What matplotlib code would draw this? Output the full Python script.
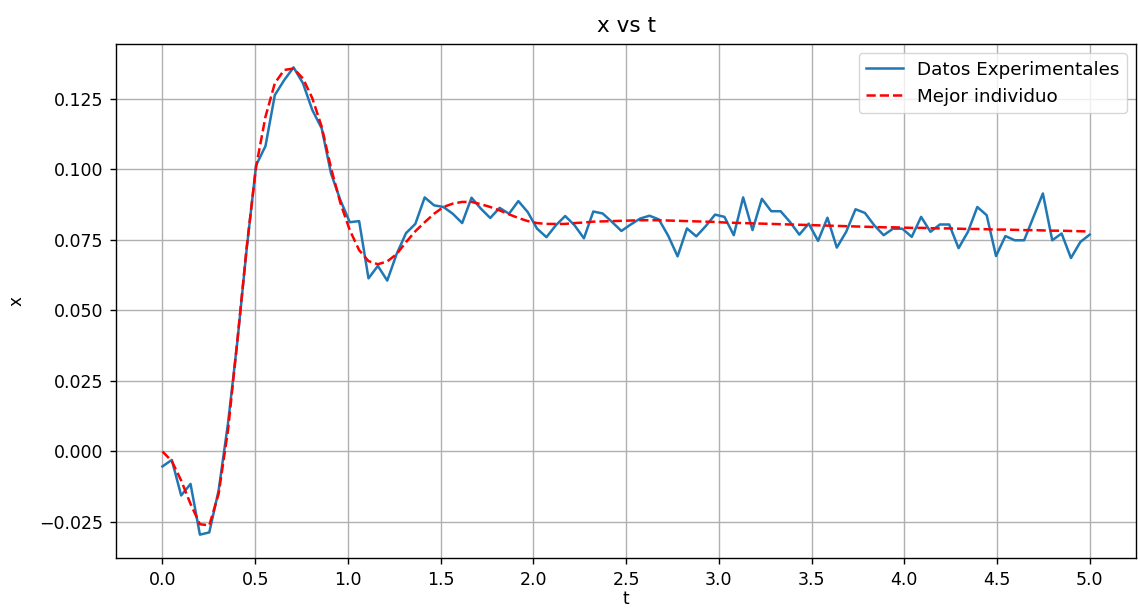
import numpy as np
import matplotlib
matplotlib.use("Agg")
import matplotlib.pyplot as plt

#time axis: 100 samples between 0 and 5
t = np.linspace(0, 5, 100)

x_exp = [-0.0053, -0.0030, -0.0156, -0.0115, -0.0295, -0.0287, -0.0138, 0.0100, 0.0390, 0.0720,
         0.1015, 0.1083, 0.1264, 0.1317, 0.1362, 0.1306, 0.1211, 0.1146, 0.0986, 0.0891,
         0.0813, 0.0817, 0.0614, 0.0658, 0.0606, 0.0700, 0.0774, 0.0807, 0.0901, 0.0873,
         0.0867, 0.0843, 0.0810, 0.0900, 0.0861, 0.0828, 0.0864, 0.0843, 0.0888, 0.0849,
         0.0790, 0.0760, 0.0802, 0.0835, 0.0802, 0.0756, 0.0851, 0.0844, 0.0814, 0.0782,
         0.0805, 0.0826, 0.0836, 0.0823, 0.0765, 0.0692, 0.0791, 0.0763, 0.0799, 0.0840,
         0.0832, 0.0767, 0.0901, 0.0785, 0.0896, 0.0852, 0.0852, 0.0814, 0.0769, 0.0808,
         0.0747, 0.0829, 0.0723, 0.0779, 0.0859, 0.0846, 0.0802, 0.0767, 0.0790, 0.0790,
         0.0761, 0.0832, 0.0779, 0.0805, 0.0805, 0.0721, 0.0779, 0.0867, 0.0838, 0.0693,
         0.0764, 0.0749, 0.0749, 0.0832, 0.0915, 0.0749, 0.0773, 0.0686, 0.0743, 0.0769]

#best individual (model fit)
x_best = [0.0000, -0.0034, -0.0103, -0.0186, -0.0258, -0.0262, -0.0150, 0.0075, 0.0394, 0.0726,
          0.1010, 0.1187, 0.1306, 0.1353, 0.1358, 0.1323, 0.1253, 0.1152, 0.1005, 0.0881,
          0.0785, 0.0714, 0.0675, 0.0664, 0.0674, 0.0700, 0.0742, 0.0781, 0.0813, 0.0843,
          0.0867, 0.0879, 0.0885, 0.0885, 0.0877, 0.0867, 0.0855, 0.0841, 0.0828, 0.0817,
          0.0810, 0.0807, 0.0807, 0.0807, 0.0810, 0.0812, 0.0815, 0.0816, 0.0817, 0.0818,
          0.0819, 0.0820, 0.0820, 0.0820, 0.0819, 0.0818, 0.0817, 0.0816, 0.0815, 0.0814,
          0.0812, 0.0811, 0.0810, 0.0809, 0.0808, 0.0807, 0.0806, 0.0805, 0.0804, 0.0803,
          0.0802, 0.0801, 0.0800, 0.0799, 0.0798, 0.0797, 0.0796, 0.0795, 0.0795, 0.0794,
          0.0793, 0.0793, 0.0792, 0.0791, 0.0791, 0.0790, 0.0789, 0.0789, 0.0788, 0.0787,
          0.0787, 0.0786, 0.0785, 0.0785, 0.0784, 0.0783, 0.0783, 0.0782, 0.0781, 0.0780]

#create a plot
fig = plt.figure(figsize=(11.38, 6.11), dpi=100)
ax = fig.add_axes([0.102, 0.0867, 0.8963, 0.8412])
ax.plot(t, x_exp, label="Datos Experimentales", color="#1f77b4", linewidth=1.8)
ax.plot(t, x_best, "--", label="Mejor individuo", color="red", linewidth=1.8)
ax.set_title("x vs t", fontsize=15.5, pad=9)
ax.set_xlabel("t", fontsize=12.2, labelpad=1)
ax.set_ylabel("x", fontsize=12.2, labelpad=10)
ax.set_xticks(np.arange(0, 5.01, 0.5))
ax.tick_params(labelsize=12.5, length=4.3, width=1.0, pad=5)
for s in ax.spines.values():
    s.set_linewidth(1.0)
ax.legend(loc="upper right", fontsize=13.2)
ax.grid(True, linewidth=1.0)
fig.savefig("out.png", dpi=100)
